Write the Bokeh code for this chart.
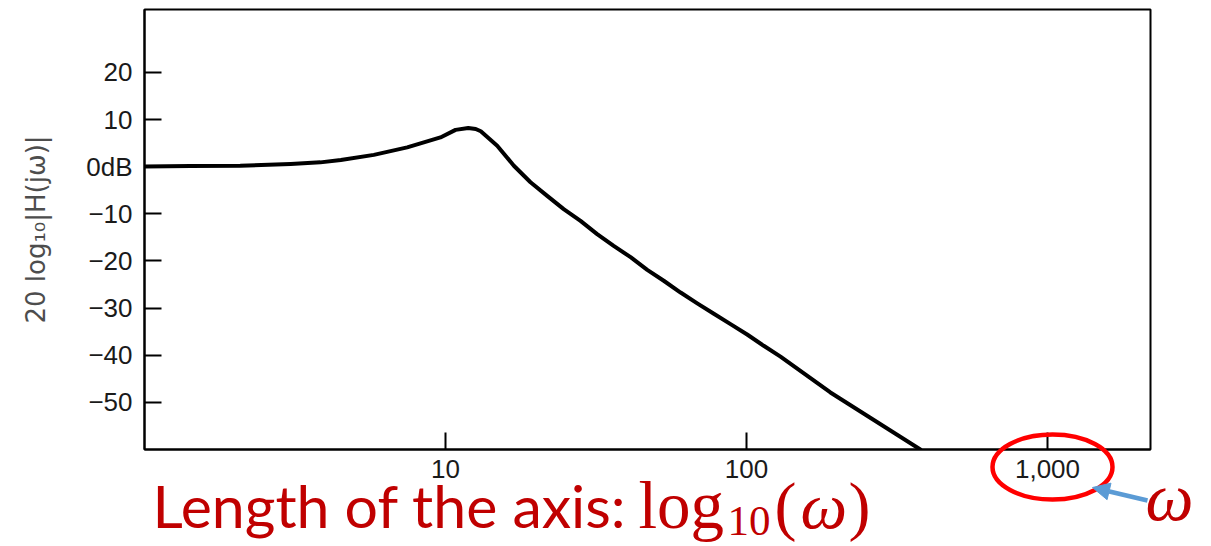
from bokeh.plotting import figure
from bokeh.layouts import column, row
from bokeh.models import Range1d, FixedTicker, Label, Arrow, NormalHead
from bokeh.embed import file_html
from bokeh.resources import INLINE

# ---- data ----
omega = [1, 1.42, 2.08, 3.06, 3.84, 4.49, 5.78, 7.46, 9.62, 10.8, 11.9, 12.6,
         13.1, 14.85, 16.87, 19.16, 21.77, 24.7, 28.09, 31.9, 36.2, 41.2, 46.8,
         53.1, 60.4, 68.6, 77.9, 88.5, 100.5, 114.1, 129.7, 190, 378]
gain_db = [0.06, 0.14, 0.2, 0.57, 0.91, 1.4, 2.5, 4.1, 6.2, 7.8, 8.2, 8.0,
           7.5, 4.45, 0.2, -3.3, -6.2, -9.0, -11.5, -14.3, -16.8, -19.2, -21.9,
           -24.2, -26.7, -29.0, -31.2, -33.4, -35.6, -38.0, -40.3, -47.9, -60.0]

x_ticks = [10, 100, 1000]
x_tick_labels = ["10", "100", "1,000"]
y_ticks = [20, 10, 0, -10, -20, -30, -40, -50]
y_tick_labels = ["20", "10", "0dB", "\u221210", "\u221220", "\u221230",
                 "\u221240", "\u221250"]
y_label = "20 log\u2081\u2080|H(j\u03c9)|"
caption_text = "Length of the axis:"
caption_math = ["log", "10", "(", "\u03c9", ")"]
omega_text = "\u03c9"

W, H = 1211, 546

# page-pixel -> data helpers (for the annotation layer)
FRAME_L, FRAME_R, FRAME_T, FRAME_B = 144, 1150, 9, 449
PPD = 301.0                    # pixels per decade
Y_MIN = -60.0
PPU = 4.714                    # pixels per dB
Y_MAX = Y_MIN + (FRAME_B - FRAME_T) / PPU
Y_ZERO = FRAME_T + Y_MAX * PPU


def dx(px):
    return 10 ** ((px - FRAME_L) / PPD)


def dy(py):
    return (Y_ZERO - py) / PPU


# ---------------- main chart ----------------
p = figure(width=W, height=H, x_axis_type="log",
           x_range=Range1d(1, dx(FRAME_R)), y_range=Range1d(Y_MIN, Y_MAX),
           output_backend="svg", toolbar_location=None,
           min_border_left=FRAME_L, min_border_right=W - FRAME_R,
           min_border_top=FRAME_T, min_border_bottom=H - FRAME_B)
p.background_fill_color = "white"
p.border_fill_color = "white"
p.outline_line_color = "black"
p.outline_line_width = 2
p.xgrid.visible = False
p.ygrid.visible = False

for ax in (p.xaxis[0], p.yaxis[0]):
    ax.axis_line_color = "black"
    ax.axis_line_width = 2
    ax.major_tick_line_color = "black"
    ax.major_tick_line_width = 2
    ax.major_tick_out = 0
    ax.major_tick_in = 17
    ax.minor_tick_in = 0
    ax.minor_tick_out = 0
    ax.major_label_text_font = "Liberation Sans"
    ax.major_label_text_font_size = "26px"
    ax.major_label_text_color = "#1a1a1a"

p.xaxis[0].ticker = FixedTicker(ticks=x_ticks)
p.xaxis[0].major_label_overrides = {t: l for t, l in zip(x_ticks, x_tick_labels)}
p.xaxis[0].major_label_standoff = 10

p.yaxis[0].ticker = FixedTicker(ticks=y_ticks)
p.yaxis[0].major_label_overrides = {t: l for t, l in zip(y_ticks, y_tick_labels)}
p.yaxis[0].major_label_standoff = 12
p.yaxis[0].axis_label = y_label
p.yaxis[0].axis_label_text_font = "DejaVu Sans"
p.yaxis[0].axis_label_text_font_size = "26px"
p.yaxis[0].axis_label_text_font_style = "normal"
p.yaxis[0].axis_label_text_color = "#4d4d4d"
p.yaxis[0].axis_label_standoff = 32

p.line(omega, gain_db, line_color="black", line_width=4, line_join="round",
       line_cap="round")

# ---------------- annotation layer (overlaid on the bottom band) ----------------
BAND_TOP = 426
q = figure(width=W, height=H - BAND_TOP, x_axis_type="log",
           x_range=Range1d(dx(0), dx(W)), y_range=Range1d(dy(H), dy(BAND_TOP)),
           output_backend="svg", toolbar_location=None,
           x_axis_location=None, y_axis_location=None,
           min_border_left=0, min_border_right=0, min_border_top=0,
           min_border_bottom=0)
q.background_fill_color = None
q.border_fill_color = None
q.outline_line_color = None
q.xgrid.visible = False
q.ygrid.visible = False

RED = "#C00000"


def label(px, py, text, font, size, shift, style="normal"):
    # py is the intended baseline; the label is anchored at its middle
    q.add_layout(Label(x=dx(px), y=dy(py - shift * size), text=text,
                       text_font=font, text_font_size=f"{size}px",
                       text_font_style=style, text_color=RED,
                       text_baseline="middle", text_align="left"))


label(152, 530, caption_text, "Lato", 59, 0.42)
label(638, 529, caption_math[0], "Liberation Serif", 67, 0.37)
label(727, 536, caption_math[1], "Liberation Serif", 43, 0.37)
label(774, 529, caption_math[2], "Liberation Serif", 66, 0.37)
label(800, 529, caption_math[3], "Liberation Serif", 66, 0.37, "italic")
label(848, 529, caption_math[4], "Liberation Serif", 66, 0.37)
label(1145, 522, omega_text, "Liberation Serif", 68, 0.37, "italic")

# red ellipse around the 1,000 tick label
q.ellipse(x=[dx(1052)], y=[dy(466.5)], width=120, height=65,
          width_units="screen", height_units="screen",
          fill_color=None, line_color="#FF0000", line_width=4.5)

# blue arrow pointing at the ellipse
q.add_layout(Arrow(x_start=dx(1147), y_start=dy(500), x_end=dx(1092), y_end=dy(487),
                   line_color="#5B9BD5", line_width=4.5,
                   end=NormalHead(size=17, fill_color="#5B9BD5",
                                  line_color="#5B9BD5", line_width=1)))

band = row(q, margin=(BAND_TOP - H, 0, 0, 0))
layout = column(p, band, spacing=0)
open("out.html", "w").write(file_html(layout, INLINE))
